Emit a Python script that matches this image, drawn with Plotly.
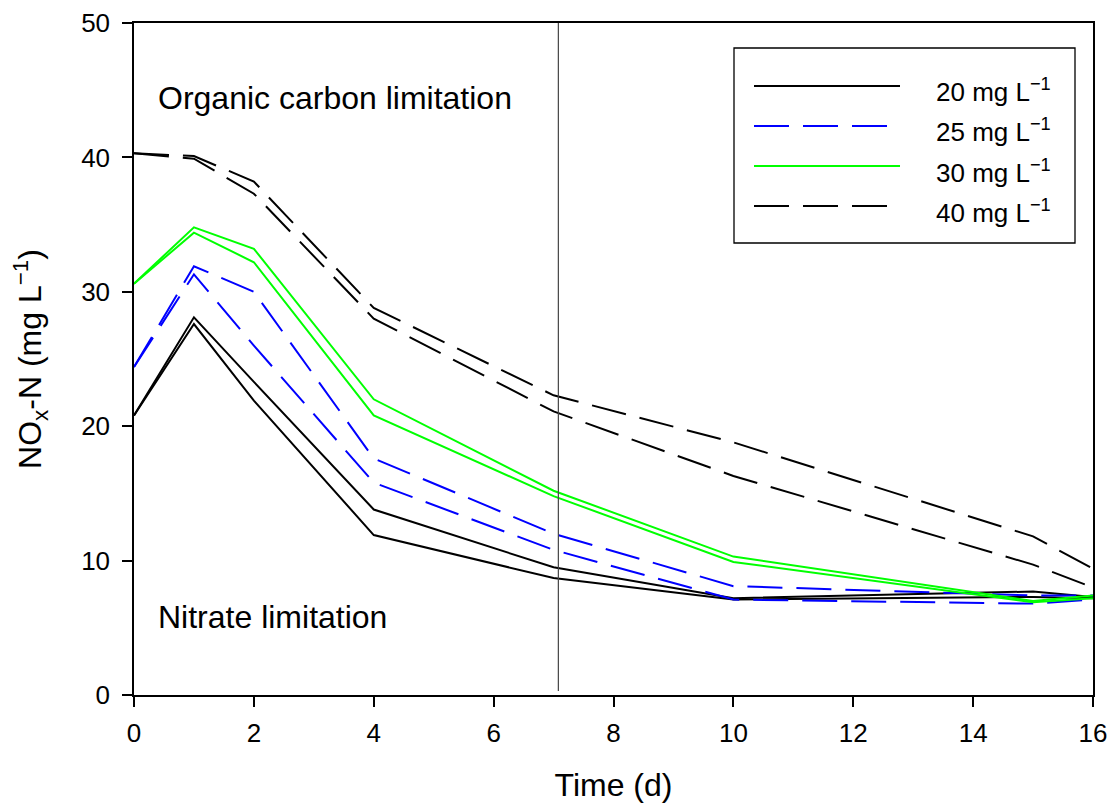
import plotly.graph_objects as go

# sampling days
DAYS = [0, 1, 2, 4, 7, 10, 15, 16]

# NOx-N (mg/L), two replicate lines per glucose dose
C20_A = [20.8, 28.1, 23.3, 13.8, 9.5, 7.2, 7.7, 7.3]
C20_B = [20.8, 27.6, 21.9, 11.9, 8.7, 7.1, 7.3, 7.2]
C25_A = [24.4, 31.9, 30.0, 17.6, 12.0, 8.1, 7.4, 7.4]
C25_B = [24.4, 31.3, 26.0, 15.8, 10.8, 7.1, 6.8, 7.1]
C30_A = [30.6, 34.8, 33.2, 22.0, 15.2, 10.3, 7.0, 7.4]
C30_B = [30.6, 34.4, 32.2, 20.8, 14.8, 9.9, 6.9, 7.2]
C40_A = [40.3, 40.1, 38.2, 28.8, 22.3, 18.8, 11.8, 9.4]
C40_B = [40.3, 39.9, 37.3, 28.0, 21.1, 16.3, 9.7, 8.0]

SERIES_NAMES = ["20 mg L<sup>\u22121</sup>", "25 mg L<sup>\u22121</sup>",
                "30 mg L<sup>\u22121</sup>", "40 mg L<sup>\u22121</sup>"]
SERIES_DATA = [(C20_A, C20_B), (C25_A, C25_B), (C30_A, C30_B), (C40_A, C40_B)]
SERIES_STYLE = [("black", "solid"), ("#0000ff", "35px,14px"),
                ("#00ff00", "solid"), ("black", "35px,14px")]

SWITCH_DAY = 7.08

FONT = "Liberation Sans, Arial, sans-serif"

fig = go.Figure()

for name, (a, b), (color, dash) in zip(SERIES_NAMES, SERIES_DATA, SERIES_STYLE):
    for ys in (a, b):
        fig.add_trace(go.Scatter(x=DAYS, y=ys, mode="lines", name=name,
                                 line=dict(color=color, dash=dash, width=2),
                                 showlegend=False))

# boundary between the two limitation regimes
fig.add_shape(type="line", x0=SWITCH_DAY, x1=SWITCH_DAY, y0=0.3, y1=50,
              xref="x", yref="y", line=dict(color="#444444", width=1.2))

# hand-built legend so the key lines are long like the original
def px_x(p):
    return (p - 137) / 959.0

def px_y(p):
    return (695 - p) / 672.0

fig.add_shape(type="rect", xref="paper", yref="paper",
              x0=px_x(737), x1=px_x(1078), y0=px_y(243), y1=px_y(48),
              line=dict(color="black", width=1.3), fillcolor="white", layer="above")

key_rows = [86, 126, 166, 206]
for row, name, (color, dash) in zip(key_rows, SERIES_NAMES, SERIES_STYLE):
    fig.add_shape(type="line", xref="paper", yref="paper",
                  x0=px_x(757), x1=px_x(903 if dash == "solid" else 890),
                  y0=px_y(row), y1=px_y(row),
                  line=dict(color=color, dash=dash, width=2), layer="above")
    fig.add_annotation(x=px_x(937), y=px_y(row + 5), xref="paper", yref="paper",
                       text=name, showarrow=False, xanchor="left", yanchor="middle",
                       font=dict(size=26, color="black", family=FONT))

fig.add_annotation(x=px_x(159), y=px_y(98), xref="paper", yref="paper",
                   text="Organic carbon limitation", showarrow=False,
                   xanchor="left", yanchor="middle",
                   font=dict(size=32, color="black", family=FONT))
fig.add_annotation(x=px_x(159), y=px_y(617), xref="paper", yref="paper",
                   text="Nitrate limitation", showarrow=False,
                   xanchor="left", yanchor="middle",
                   font=dict(size=32, color="black", family=FONT))

# page body has an 8px margin, so the figure is shrunk/offset to keep the
# plot area near the same window position as the original
fig.update_layout(
    width=1107, height=797,
    margin=dict(l=126, r=22, t=15, b=110, autoexpand=False),
    paper_bgcolor="white", plot_bgcolor="white",
    font=dict(family=FONT, color="black", size=26),
    showlegend=False,
)

fig.update_xaxes(range=[0, 16], tickvals=[0, 2, 4, 6, 8, 10, 12, 14, 16],
                 showgrid=False, zeroline=False, showline=True, mirror=True,
                 linecolor="black", linewidth=1.5, ticks="outside", ticklen=10,
                 tickcolor="black", tickwidth=1.5, automargin=False,
                 tickfont=dict(size=26), ticklabelstandoff=4,
                 title=dict(text="Time (d)", font=dict(size=32), standoff=27))
fig.update_yaxes(range=[0, 50], tickvals=[0, 10, 20, 30, 40, 50],
                 showgrid=False, zeroline=False, showline=True, mirror=True,
                 linecolor="black", linewidth=1.5, ticks="outside", ticklen=10,
                 tickcolor="black", tickwidth=1.5, automargin=False,
                 tickfont=dict(size=26), ticklabelstandoff=7,
                 title=dict(text="NO<sub>x</sub>-N (mg L<sup>\u22121</sup>)",
                            font=dict(size=32), standoff=36))

fig.write_html("out.html")
